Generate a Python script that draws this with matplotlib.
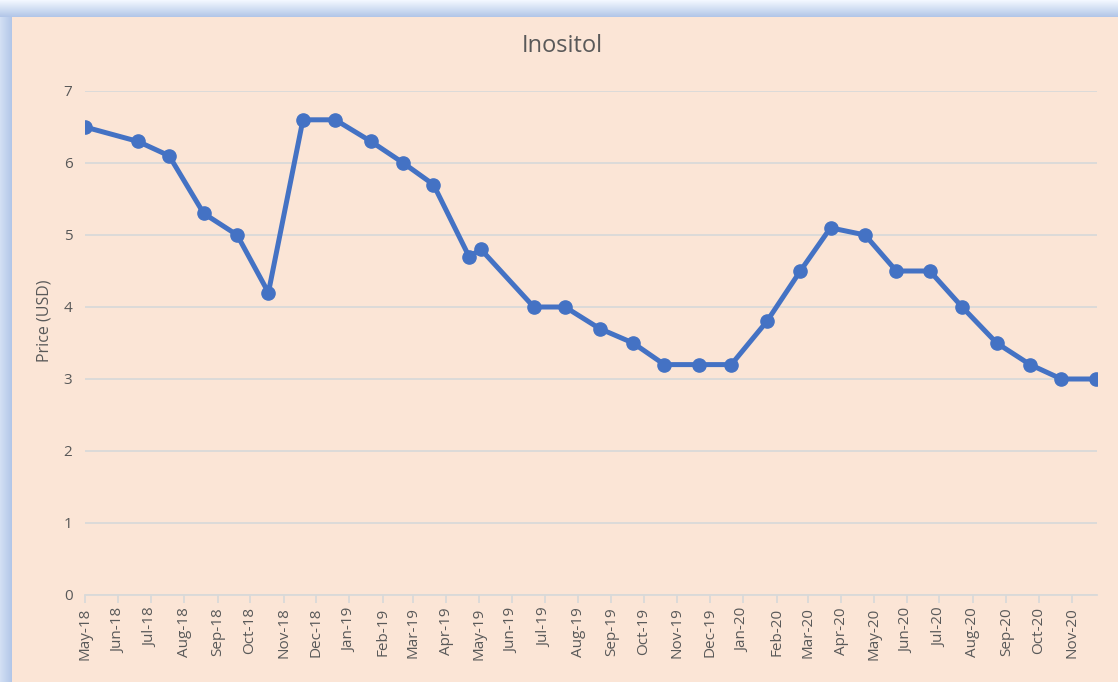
import numpy as np
import pandas as pd
import matplotlib
matplotlib.use('Agg')
import matplotlib.pyplot as plt
import matplotlib.dates as mdates

# Daten
dates = ['2018-05-01', '2018-06-19', '2018-07-18', '2018-08-19', '2018-09-19',
         '2018-10-18', '2018-11-19', '2018-12-19', '2019-01-21', '2019-02-20',
         '2019-03-20', '2019-04-22', '2019-05-03', '2019-06-21', '2019-07-20',
         '2019-08-21', '2019-09-21', '2019-10-20', '2019-11-21', '2019-12-21',
         '2020-01-23', '2020-02-23', '2020-03-22', '2020-04-23', '2020-05-22',
         '2020-06-22', '2020-07-22', '2020-08-23', '2020-09-23', '2020-10-22',
         '2020-11-23']
prices = [6.5, 6.3, 6.1, 5.3, 5.0, 4.2, 6.6, 6.6, 6.3, 6.0, 5.7, 4.7, 4.8, 4.0, 4.0,
          3.7, 3.5, 3.2, 3.2, 3.2, 3.8, 4.5, 5.1, 5.0, 4.5, 4.5, 4.0, 3.5, 3.2, 3.0,
          3.0]
y_ticks = [0, 1, 2, 3, 4, 5, 6, 7]

# Farben
PEACH = '#FBE5D6'
LINE = '#4472C4'
GRID = '#D9D9D9'
TEXT = '#595959'

plt.rcParams['font.family'] = ['Open Sans', 'DejaVu Sans']

W, H = 1118, 682
fig = plt.figure(figsize=(W / 100, H / 100), dpi=100)

# Rahmen mit blauem Verlauf (oben und links)
bg = fig.add_axes([0, 0, 1, 1])
blue = np.array([0.70, 0.78, 0.91])
light = np.array([0.95, 0.97, 1.0])
img = np.ones((H, W, 3)) * np.array(matplotlib.colors.to_rgb(PEACH))
for i in range(17):
    t = i / 16
    img[i, :] = light * (1 - t) + blue * t
for j in range(12):
    t = j / 11
    img[17:, j] = (light * (1 - t) + blue * t) * 0.5 + blue * 0.5
bg.imshow(img, aspect='auto', extent=[0, 1, 0, 1])
bg.set_axis_off()

ax = fig.add_axes([85 / W, 1 - 595 / H, (1097 - 85) / W, (595 - 91) / H])
ax.set_facecolor('none')

x = pd.to_datetime(dates)
ax.plot(x, prices, color=LINE, lw=3.6, marker='o', markersize=9.5,
        solid_joinstyle='round', zorder=3)

ax.set_xlim(pd.Timestamp('2018-05-01'), pd.Timestamp('2020-11-24'))
ax.set_ylim(0, 7)
ax.set_yticks(y_ticks)
ax.grid(axis='y', color=GRID, lw=1.3)
ax.set_axisbelow(True)

ax.xaxis.set_major_locator(mdates.MonthLocator())
ax.xaxis.set_major_formatter(mdates.DateFormatter('%b-%y'))
plt.setp(ax.get_xticklabels(), rotation=90)

for s in ['top', 'right', 'left']:
    ax.spines[s].set_visible(False)
ax.spines['bottom'].set_color(GRID)
ax.spines['bottom'].set_linewidth(1.3)
ax.tick_params(axis='x', colors=GRID, labelcolor=TEXT, length=6, width=1.3,
               labelsize=11, pad=3)
ax.tick_params(axis='y', length=0, labelcolor=TEXT, labelsize=11, pad=9)

ax.set_ylabel('Price (USD)', color=TEXT, fontsize=11.5)
ax.yaxis.set_label_coords(-0.032, 0.544)
fig.text(562 / W, 1 - 46 / H, 'Inositol', ha='center', va='center',
         fontsize=17, color=TEXT)

plt.savefig('out.png', dpi=100)
